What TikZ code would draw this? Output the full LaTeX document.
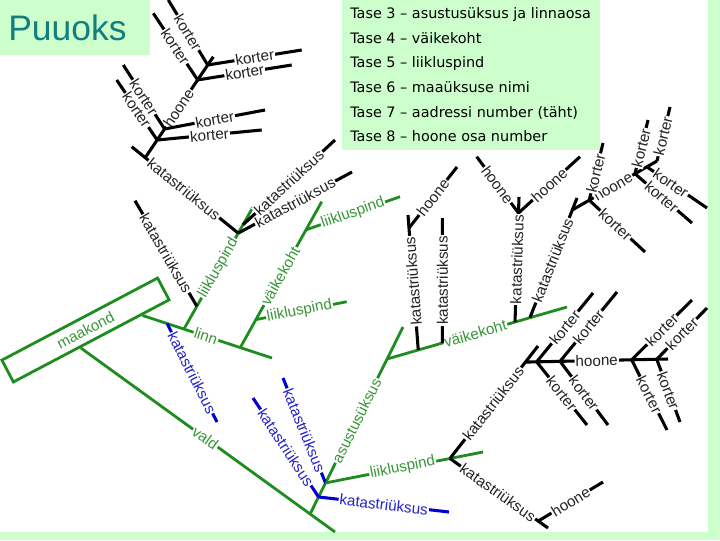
\documentclass[tikz,border=0pt]{standalone}
\usepackage{fontspec}
\setmainfont{Liberation Sans}
\newfontfamily\legendfont{DejaVu Sans}
\usetikzlibrary{calc}
\definecolor{bggreen}{RGB}{204,255,204}
\definecolor{titleteal}{RGB}{20,125,125}
\definecolor{treegreen}{RGB}{30,140,30}
\definecolor{lblgreen}{RGB}{55,150,55}
\definecolor{treeblue}{RGB}{0,0,210}
\definecolor{lblblue}{RGB}{35,35,200}
\definecolor{lblblack}{RGB}{35,35,35}

\begin{document}
\begin{tikzpicture}[x=0.75pt,y=-0.75pt,
  lbl/.style={sloped, allow upside down, fill=white, inner sep=0.8pt,
              font=\fontsize{11.4}{12}\selectfont},
  kedge/.style={draw=black, line width=2.3pt},
  gedge/.style={draw=treegreen, line width=2.1pt},
  bedge/.style={draw=treeblue, line width=2.3pt},
  klbl/.style={lbl, text=lblblack},
  glbl/.style={lbl, text=lblgreen},
  blbl/.style={lbl, text=lblblue},
  legend/.style={anchor=base west, inner sep=0pt, font=\legendfont\fontsize{10.8}{12}\selectfont}]
  \useasboundingbox (0,0) rectangle (720,540);
  % Background bands and boxes
  \fill[bggreen] (708,0) rectangle (720,540);
  \fill[bggreen] (0,532) rectangle (720,540);
  \fill[bggreen] (0,0) rectangle (150,55);
  \fill[bggreen] (342,0) rectangle (600,150);
  \node[anchor=base west, inner sep=0pt, text=titleteal,
        font=\fontsize{26.6}{30}\selectfont] (title) at (8,40) {Puuoks};
  % Legend
  \foreach \txt [count=\i from 3] in {asustusüksus ja linnaosa, väikekoht, liikluspind,
      maaüksuse nimi, aadressi number (täht), hoone osa number}
    \node[legend] (tase\i) at (350,{18.5+24.65*(\i-3)}) {Tase \i{} – \txt};

  % Root box
  \node[draw=treegreen, line width=2.1pt, rotate=27.8, minimum width=132pt,
        minimum height=18.5pt, inner sep=0pt, text=lblgreen,
        font=\fontsize{11.4}{12}\selectfont] (maakond) at (85.5,330) {maakond};
  \coordinate (linnroot) at ($(maakond.south west)!0.82!(maakond.south east)$);
  \coordinate (valdroot) at ($(maakond.south west)!0.43!(maakond.south east)$);

  % linn
  \coordinate (linnend) at (272,358);
  \draw[gedge] (linnroot) -- coordinate[pos=0.19] (linnA) coordinate[pos=0.32] (linnB)
    coordinate[pos=0.755] (linnC) node[glbl,pos=0.49] (linn) {linn} (linnend);
  \coordinate (bk1) at (217,422);
  \draw[bedge] (linnA) -- node[blbl] (lbk1) {katastriüksus} (bk1);
  % linn - liikluspind
  \coordinate (lp1end) at (253,207);
  \draw[gedge] (linnB) -- coordinate[pos=0.187] (lp1a) coordinate[pos=0.786] (lp1b)
    coordinate[pos=0.854] (lp1c) node[glbl] (llp1) {liikluspind} (lp1end);
  \coordinate (kat1) at (135,200.7);
  \draw[kedge] (kat1) -- node[klbl] (lkat1) {katastriüksus} (lp1a);
  \coordinate (kat2) at (131.7,146.7);
  \draw[kedge] (kat2) -- coordinate[pos=0.127] (hj) node[klbl,pos=0.49] (lkat2) {katastriüksus} (lp1b);
  \coordinate (kat3) at (352,172);
  \draw[kedge] (lp1b) -- node[klbl] (lkat3) {katastriüksus} (kat3);
  \coordinate (kat4) at (335,140);
  \draw[kedge] (lp1c) -- node[klbl] (lkat4) {katastriüksus} (kat4);
  % hoone, top left
  \coordinate (hoone1end) at (213.3,56.7);
  \draw[kedge] (hj) -- coordinate[pos=0.175] (hk1) coordinate[pos=0.284] (hk2)
    coordinate[pos=0.77] (hk3) coordinate[pos=0.918] (hk4)
    node[klbl,pos=0.49] (lh1) {hoone} (hoone1end);
  \foreach \n/\ux/\uy/\rx/\ry in {1/116.7/80/261.7/130, 2/123.3/65/265/110,
                                  3/153.3/13.3/291.7/65, 4/168.3/0/301.7/50}{
    \coordinate (ku\n) at (\ux,\uy);
    \coordinate (kr\n) at (\rx,\ry);
    \draw[kedge] (ku\n) -- node[klbl] (lku\n) {korter} (hk\n);
    \draw[kedge] (hk\n) -- node[klbl] (lkr\n) {korter} (kr\n);
  }
  % linn - vaikekoht
  \coordinate (vk1end) at (321.7,201.7);
  \draw[gedge] (linnC) -- coordinate[pos=0.192] (vk1a) coordinate[pos=0.807] (vk1b)
    node[glbl,pos=0.49] (lvk1) {väikekoht} (vk1end);
  \coordinate (lp2) at (346.7,301.7);
  \draw[gedge] (vk1a) -- node[glbl,pos=0.48] (llp2) {liikluspind} (lp2);
  \coordinate (lp3) at (400,196.7);
  \draw[gedge] (vk1b) -- node[glbl] (llp3) {liikluspind} (lp3);

  % vald
  \coordinate (valdend) at (335,532);
  \draw[gedge] (valdroot) -- coordinate[pos=0.902] (valdA)
    node[glbl,pos=0.49] (vald) {vald} (valdend);
  \coordinate (asend) at (403,327);
  \draw[gedge] (valdA) -- coordinate[pos=0.091] (asA) coordinate[pos=0.166] (asB)
    coordinate[pos=0.829] (asC) node[glbl,pos=0.5] (las) {asustusüksus} (asend);
  \coordinate (bk2) at (253,398);
  \draw[bedge] (bk2) -- node[blbl] (lbk2) {katastriüksus} (asA);
  \coordinate (bk3) at (449,512);
  \draw[bedge] (asA) -- node[blbl] (lbk3) {katastriüksus} (bk3);
  \coordinate (bk4) at (283,378);
  \draw[bedge] (bk4) -- node[blbl] (lbk4) {katastriüksus} (asB);
  % asustusuksus - liikluspind
  \coordinate (lp4end) at (483,452);
  \draw[gedge] (asB) -- coordinate[pos=0.79] (lp4A) node[glbl,pos=0.49] (llp4) {liikluspind} (lp4end);
  \coordinate (kat5) at (538,346);
  \draw[kedge] (lp4A) -- coordinate[pos=0.857] (k5A) node[klbl,pos=0.49] (lkat5) {katastriüksus} (kat5);
  \coordinate (hs2end) at (668,359);
  \draw[kedge] (k5A) -- coordinate[pos=0.079] (hs2a) coordinate[pos=0.243] (hs2b)
    coordinate[pos=0.745] (hs2c) coordinate[pos=0.921] (hs2d) node[klbl,pos=0.5] (lh2) {hoone} (hs2end);
  \foreach \n/\ux/\uy/\dx/\dy in {a/593/293/587/425, b/617/292/608/425,
                                  c/692/300/667/430, d/707/308/680/422}{
    \coordinate (ku2\n) at (\ux,\uy);
    \coordinate (kd2\n) at (\dx,\dy);
    \draw[kedge] (hs2\n) -- node[klbl] (lku2\n) {korter} (ku2\n);
    \draw[kedge] (hs2\n) -- node[klbl] (lkd2\n) {korter} (kd2\n);
  }
  \coordinate (kat6) at (548,528);
  \draw[kedge] (lp4A) -- coordinate[pos=0.9] (k6A) node[klbl,pos=0.49] (lkat6) {katastriüksus} (kat6);
  \coordinate (h6) at (603,482);
  \draw[kedge] (k6A) -- node[klbl] (lh6) {hoone} (h6);
  % asustusuksus - vaikekoht
  \coordinate (vk2end) at (567,307);
  \draw[gedge] (asC) -- coordinate[pos=0.173] (vk2a) coordinate[pos=0.307] (vk2b)
    coordinate[pos=0.711] (vk2c) coordinate[pos=0.794] (vk2d)
    node[glbl,pos=0.49] (lvk2) {väikekoht} (vk2end);
  \coordinate (kv1) at (408,215);
  \draw[kedge] (vk2a) -- coordinate[pos=0.904] (kv1A) node[klbl,pos=0.51] (lkv1) {katastriüksus} (kv1);
  \coordinate (h7) at (457,167);
  \draw[kedge] (kv1A) -- node[klbl] (lh7) {hoone} (h7);
  \coordinate (kv2) at (442.3,218);
  \draw[kedge] (vk2b) -- node[klbl] (lkv2) {katastriüksus} (kv2);
  \coordinate (kv3) at (519,197);
  \draw[kedge] (vk2c) -- coordinate[pos=0.872] (kv3A) node[klbl,pos=0.5] (lkv3) {katastriüksus} (kv3);
  \coordinate (h8) at (476.7,156.7);
  \draw[kedge] (h8) -- node[klbl] (lh8) {hoone} (kv3A);
  \coordinate (h9) at (580,156.7);
  \draw[kedge] (kv3A) -- node[klbl] (lh9) {hoone} (h9);
  \coordinate (kv4) at (577,198);
  \draw[kedge] (vk2d) -- coordinate[pos=0.9] (kv4A) node[klbl,pos=0.48] (lkv4) {katastriüksus} (kv4);
  \coordinate (hs3end) at (657,161);
  \draw[kedge] (kv4A) -- coordinate[pos=0.2] (hs3b) coordinate[pos=0.74] (hs3c)
    coordinate[pos=0.88] (hs3d) node[klbl,pos=0.48] (lh3) {hoone} (hs3end);
  \coordinate (k3bu) at (603,143);
  \coordinate (k3bd) at (645,252);
  \coordinate (k3cu) at (648,120);
  \coordinate (k3cd) at (692,223);
  \coordinate (k3dd) at (707,208);
  \coordinate (k3eu) at (670,107);
  \draw[kedge] (hs3b) -- node[klbl,pos=0.47] (lk3bu) {korter} (k3bu);
  \draw[kedge] (hs3b) -- node[klbl,pos=0.47] (lk3bd) {korter} (k3bd);
  \draw[kedge] (hs3c) -- node[klbl,pos=0.48] (lk3cu) {korter} (k3cu);
  \draw[kedge] (hs3c) -- node[klbl,pos=0.47] (lk3cd) {korter} (k3cd);
  \draw[kedge] (hs3d) -- node[klbl,pos=0.4] (lk3dd) {korter} (k3dd);
  \draw[kedge] (hs3end) -- node[klbl,pos=0.46] (lk3eu) {korter} (k3eu);
\end{tikzpicture}
\end{document}
